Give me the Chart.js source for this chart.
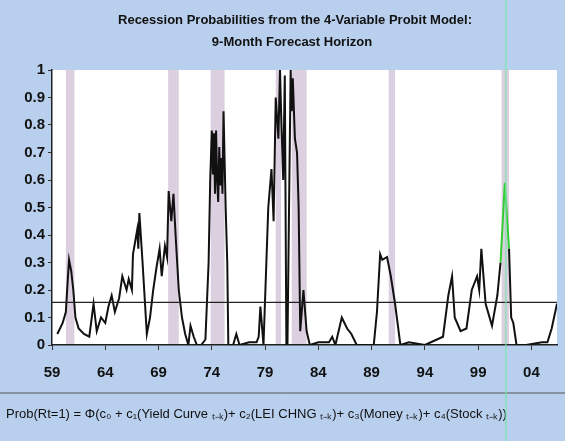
<!DOCTYPE html>
<html><head><meta charset="utf-8">
<script src="https://cdn.jsdelivr.net/npm/chart.js@4/dist/chart.umd.min.js"></script>
<style>html,body{margin:0;padding:0;background:#b9cfee}canvas{display:block}</style>
</head><body><div style="width:565px;height:441px"><canvas id="c"></canvas></div>
<script>
const titleLines = ["Recession Probabilities from the 4-Variable Probit Model:", "9-Month Forecast Horizon"];
const years = [1959.5,1960.0,1960.3,1960.5,1960.6,1960.8,1961.0,1961.2,1961.5,1962.0,1962.5,1962.9,1963.2,1963.6,1964.0,1964.3,1964.6,1964.9,1965.3,1965.6,1966.0,1966.2,1966.5,1966.6,1967.0,1967.1,1967.2,1967.5,1967.9,1968.2,1968.5,1968.8,1969.1,1969.3,1969.6,1969.8,1969.95,1970.2,1970.4,1970.6,1970.9,1971.2,1971.5,1971.8,1972.0,1972.3,1972.6,1973.0,1973.4,1973.7,1973.85,1974.0,1974.1,1974.2,1974.3,1974.4,1974.5,1974.6,1974.7,1974.8,1974.9,1975.0,1975.1,1975.3,1975.45,1975.55,1976.0,1976.3,1976.6,1977.5,1978.2,1978.4,1978.56,1978.85,1979.3,1979.6,1979.8,1980.0,1980.25,1980.4,1980.5,1980.7,1980.85,1981.0,1981.1,1981.4,1981.5,1981.6,1981.8,1982.0,1982.15,1982.3,1982.6,1982.9,1983.2,1984.0,1985.0,1985.3,1985.6,1986.2,1986.7,1987.1,1987.6,1988.0,1989.2,1989.5,1989.8,1990.0,1990.45,1990.8,1991.2,1991.7,1992.5,1994.0,1995.7,1996.2,1996.55,1996.8,1997.35,1997.9,1998.4,1998.9,1999.1,1999.3,1999.7,2000.3,2000.8,2001.1,2001.5,2001.9,2002.1,2002.3,2002.6,2003.5,2005.0,2005.5,2005.9,2006.4];
const probs = [0.04,0.08,0.12,0.25,0.31,0.27,0.2,0.1,0.06,0.04,0.03,0.15,0.05,0.1,0.08,0.14,0.18,0.12,0.17,0.25,0.2,0.24,0.2,0.33,0.42,0.35,0.48,0.3,0.04,0.1,0.2,0.28,0.35,0.25,0.36,0.32,0.56,0.45,0.55,0.4,0.2,0.1,0.04,0.0,0.07,0.03,0.0,0.0,0.02,0.3,0.6,0.78,0.62,0.77,0.55,0.78,0.6,0.52,0.72,0.58,0.68,0.55,0.85,0.5,0.3,0.0,0.0,0.04,0.0,0.01,0.01,0.03,0.14,0.0,0.5,0.64,0.45,0.9,0.75,1.0,0.85,0.6,0.98,0.0,0.0,1.0,0.85,0.97,0.75,0.7,0.5,0.05,0.2,0.05,0.0,0.01,0.01,0.03,0.0,0.1,0.06,0.04,0.0,0.0,0.0,0.12,0.33,0.31,0.32,0.25,0.15,0.0,0.01,0.0,0.03,0.18,0.25,0.1,0.05,0.06,0.2,0.25,0.2,0.35,0.15,0.07,0.18,0.3,0.59,0.35,0.1,0.08,0.0,0.0,0.01,0.01,0.06,0.15];
const recessions = [[1960.3,1961.1],[1969.9,1970.9],[1973.9,1975.2],[1980.0,1980.5],[1981.5,1982.9],[1990.6,1991.2],[2001.2,2001.9]];
const threshold = 0.155;
const xTickLabels = ["59","64","69","74","79","84","89","94","99","04"];
const formula = "Prob(Rt=1) = \u03A6(c\u2080 + c\u2081(Yield Curve \u209C\u208B\u2096)+ c\u2082(LEI CHNG \u209C\u208B\u2096)+ c\u2083(Money \u209C\u208B\u2096)+ c\u2084(Stock \u209C\u208B\u2096))";

const pts = years.map((x,i)=>({x, y: probs[i]}));
const deco = {
  id:'deco',
  beforeDraw(ch){
    const c=ch.ctx, a=ch.chartArea, xs=ch.scales.x;
    c.save();
    c.fillStyle='#b9cfee'; c.fillRect(0,0,ch.width,ch.height);
    c.fillStyle='#ffffff'; c.fillRect(a.left,a.top,a.right-a.left,a.bottom-a.top);
    c.fillStyle='#dccfe0';
    recessions.forEach(([s,e])=>{const x1=xs.getPixelForValue(s),x2=xs.getPixelForValue(e);c.fillRect(x1,a.top,x2-x1,a.bottom-a.top);});
    c.fillStyle='#111'; c.textAlign='center'; c.font='bold 13px "Liberation Sans Narrow", "Liberation Sans", Arial';
    c.fillText(titleLines[0],295,24);
    c.fillText(titleLines[1],292,46);
    c.strokeStyle='#555'; c.lineWidth=1;
    c.beginPath(); c.moveTo(0,393); c.lineTo(ch.width,393); c.stroke();
    c.textAlign='left'; c.font='13px "Liberation Sans Narrow", "Liberation Sans", Arial';
    c.fillText(formula,6,418);
    c.restore();
  },
  afterDatasetsDraw(ch){
    const c=ch.ctx,a=ch.chartArea,xs=ch.scales.x,ys=ch.scales.y;
    c.save();
    c.strokeStyle='#222'; c.lineWidth=1.2;
    const y=ys.getPixelForValue(threshold);
    c.beginPath(); c.moveTo(a.left,y); c.lineTo(a.right,y); c.stroke();
    c.strokeStyle='rgba(120,230,170,0.6)'; c.lineWidth=2;
    const gx=xs.getPixelForValue(2001.6);
    c.beginPath(); c.moveTo(gx,0); c.lineTo(gx,ch.height); c.stroke();
    c.restore();
  }
};
new Chart(document.getElementById('c'),{
  type:'line',
  data:{datasets:[{data:pts,borderColor:'#111',borderWidth:2,pointRadius:0,tension:0,
    segment:{borderColor:ctx=>(ctx.p0.parsed.x>=2001.05&&ctx.p1.parsed.x<=2001.95)?'#33cc33':'#111'}}]},
  options:{responsive:true,maintainAspectRatio:false,animation:false,
    layout:{padding:{top:70,right:8,left:0,bottom:0}},
    plugins:{legend:{display:false},tooltip:{enabled:false}},
    scales:{
      x:{type:'linear',min:1959,max:2006.4,
        afterBuildTicks(s){s.ticks=xTickLabels.map((_,i)=>({value:1959+5*i}));},
        afterFit(s){s.height=96;},
        ticks:{callback:(v,i)=>xTickLabels[i],color:'#111',font:{size:15,weight:'bold',family:'"Liberation Sans Narrow","Liberation Sans",Arial'},padding:14,maxRotation:0,autoSkip:false},
        grid:{drawOnChartArea:false,tickLength:5,color:'#333'},border:{color:'#222',width:1.5}},
      y:{min:0,max:1,
        afterFit(s){s.width=52;},
        ticks:{stepSize:0.1,color:'#111',callback:v=>Math.round(v*10)/10,font:{size:15,weight:'bold',family:'"Liberation Sans Narrow","Liberation Sans",Arial'},padding:3},
        grid:{drawOnChartArea:false,tickLength:4,color:'#333'},border:{color:'#222',width:1.5}}
    }},
  plugins:[deco]
});
</script></body></html>
